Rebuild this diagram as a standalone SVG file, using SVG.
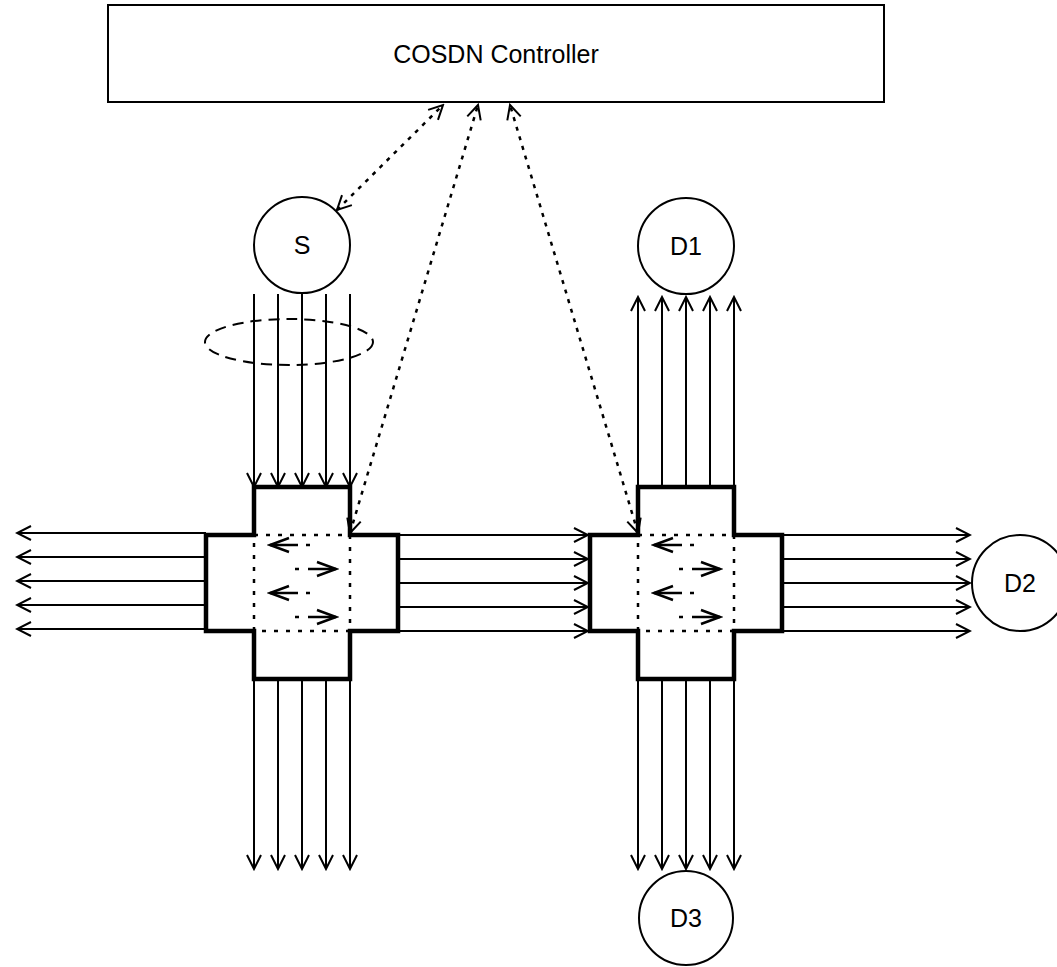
<svg xmlns="http://www.w3.org/2000/svg" width="1057" height="967" viewBox="0 0 1057 967">
<style>
  text { font-family: "Liberation Sans", Arial, Helvetica, sans-serif; font-size: 25px; fill: #000; text-anchor: middle; }
  .box { fill: #fff; stroke: #000; stroke-width: 2; }
  .node { fill: #fff; stroke: #000; stroke-width: 2; }
  .cross { fill: #fff; stroke: #000; stroke-width: 4.5; stroke-linejoin: miter; }
  .inner { fill: none; stroke: #000; stroke-width: 2.5; stroke-dasharray: 4 8; }
  .link { fill: none; stroke: #000; stroke-width: 2; marker-end: url(#v); }
  .ctl { fill: none; stroke: #000; stroke-width: 2.5; stroke-dasharray: 4 6; marker-start: url(#v); marker-end: url(#v); }
  .ial { fill: none; stroke: #000; stroke-width: 2.5; stroke-dasharray: 4 8 60; marker-end: url(#vi); }
  .iar { fill: none; stroke: #000; stroke-width: 2.5; stroke-dasharray: 4 9 60; marker-end: url(#vi); }
  .ell { fill: none; stroke: #000; stroke-width: 2; stroke-dasharray: 11 7; }
</style>
<defs>
  <marker id="v" viewBox="0 0 18 18" markerWidth="18" markerHeight="18" refX="16" refY="9" orient="auto-start-reverse" markerUnits="userSpaceOnUse">
    <path d="M2,2 L16,9 L2,16" fill="none" stroke="#000" stroke-width="2" stroke-dasharray="none"/>
  </marker>
  <marker id="vi" viewBox="0 0 24 20" markerWidth="24" markerHeight="20" refX="21" refY="10" orient="auto" markerUnits="userSpaceOnUse">
    <path d="M2,3 L21,10 L2,17" fill="none" stroke="#000" stroke-width="2.5" stroke-dasharray="none"/>
  </marker>
</defs>

<g id="controller">
  <rect class="box" x="108" y="5" width="776" height="97"/>
  <text x="496" y="63">COSDN Controller</text>
</g>

<g id="node-S">
  <circle class="node" cx="302" cy="245" r="48"/>
  <text x="302" y="254">S</text>
</g>
<g id="node-D1">
  <circle class="node" cx="686" cy="246" r="48"/>
  <text x="686" y="255">D1</text>
</g>
<g id="node-D2">
  <circle class="node" cx="1020" cy="583" r="48"/>
  <text x="1020" y="592">D2</text>
</g>
<g id="node-D3">
  <circle class="node" cx="686" cy="918" r="47"/>
  <text x="686" y="927">D3</text>
</g>

<g id="bundle">
  <ellipse class="ell" cx="289" cy="342" rx="84" ry="23"/>
</g>

<g id="switch-left">
  <path class="cross" d="M254,487 H350 V535 H398 V631 H350 V679 H254 V631 H206 V535 H254 Z"/>
  <rect class="inner" x="254" y="535" width="96" height="96"/>
</g>
<g id="switch-right">
  <path class="cross" d="M638,487 H734 V535 H782 V631 H734 V679 H638 V631 H590 V535 H638 Z"/>
  <rect class="inner" x="638" y="535" width="96" height="96"/>
</g>

<g id="connectors">
  <!-- S to left switch -->
  <line class="link" x1="254" y1="294" x2="254" y2="487"/>
  <line class="link" x1="278" y1="294" x2="278" y2="487"/>
  <line class="link" x1="302" y1="294" x2="302" y2="487"/>
  <line class="link" x1="326" y1="294" x2="326" y2="487"/>
  <line class="link" x1="350" y1="294" x2="350" y2="487"/>
  <!-- left switch to left -->
  <line class="link" x1="206" y1="533" x2="17" y2="533"/>
  <line class="link" x1="206" y1="557" x2="17" y2="557"/>
  <line class="link" x1="206" y1="581" x2="17" y2="581"/>
  <line class="link" x1="206" y1="605" x2="17" y2="605"/>
  <line class="link" x1="206" y1="629" x2="17" y2="629"/>
  <!-- left switch to right switch -->
  <line class="link" x1="398" y1="535" x2="588" y2="535"/>
  <line class="link" x1="398" y1="559" x2="588" y2="559"/>
  <line class="link" x1="398" y1="583" x2="588" y2="583"/>
  <line class="link" x1="398" y1="607" x2="588" y2="607"/>
  <line class="link" x1="398" y1="631" x2="588" y2="631"/>
  <!-- left switch down -->
  <line class="link" x1="254" y1="679" x2="254" y2="869"/>
  <line class="link" x1="278" y1="679" x2="278" y2="869"/>
  <line class="link" x1="302" y1="679" x2="302" y2="869"/>
  <line class="link" x1="326" y1="679" x2="326" y2="869"/>
  <line class="link" x1="350" y1="679" x2="350" y2="869"/>
  <!-- right switch up to D1 -->
  <line class="link" x1="638" y1="487" x2="638" y2="297"/>
  <line class="link" x1="662" y1="487" x2="662" y2="297"/>
  <line class="link" x1="686" y1="487" x2="686" y2="297"/>
  <line class="link" x1="710" y1="487" x2="710" y2="297"/>
  <line class="link" x1="734" y1="487" x2="734" y2="297"/>
  <!-- right switch to D2 -->
  <line class="link" x1="782" y1="535" x2="970" y2="535"/>
  <line class="link" x1="782" y1="559" x2="970" y2="559"/>
  <line class="link" x1="782" y1="583" x2="970" y2="583"/>
  <line class="link" x1="782" y1="607" x2="970" y2="607"/>
  <line class="link" x1="782" y1="631" x2="970" y2="631"/>
  <!-- right switch down to D3 -->
  <line class="link" x1="638" y1="679" x2="638" y2="869"/>
  <line class="link" x1="662" y1="679" x2="662" y2="869"/>
  <line class="link" x1="686" y1="679" x2="686" y2="869"/>
  <line class="link" x1="710" y1="679" x2="710" y2="869"/>
  <line class="link" x1="734" y1="679" x2="734" y2="869"/>
  <!-- controller links -->
  <line class="ctl" x1="337" y1="210" x2="443" y2="105"/>
  <line class="ctl" x1="350" y1="533" x2="478" y2="105"/>
  <line class="ctl" x1="638" y1="533" x2="510" y2="105"/>
  <!-- internal switching arrows, left -->
  <line class="ial" x1="310" y1="545" x2="270" y2="545"/>
  <line class="iar" x1="295" y1="569" x2="336" y2="569"/>
  <line class="ial" x1="310" y1="593" x2="270" y2="593"/>
  <line class="iar" x1="295" y1="617" x2="336" y2="617"/>
  <!-- internal switching arrows, right -->
  <line class="ial" x1="694" y1="545" x2="654" y2="545"/>
  <line class="iar" x1="679" y1="569" x2="720" y2="569"/>
  <line class="ial" x1="694" y1="593" x2="654" y2="593"/>
  <line class="iar" x1="679" y1="617" x2="720" y2="617"/>
</g>
</svg>
